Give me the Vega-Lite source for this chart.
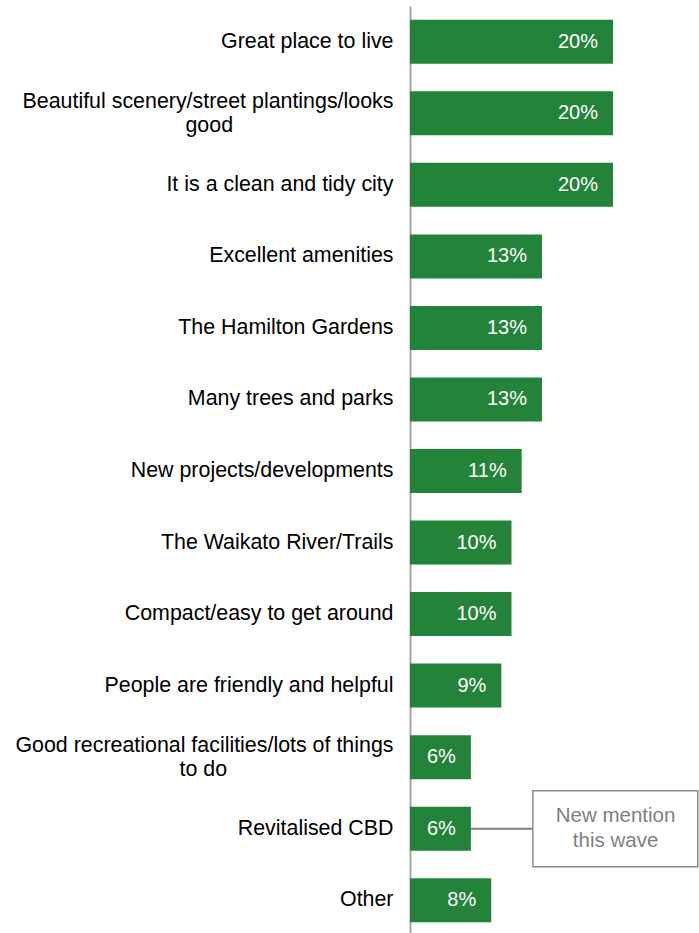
{
  "$schema": "https://vega.github.io/schema/vega-lite/v6.json",
  "width": 289,
  "height": 930,
  "autosize": {"type": "none"},
  "padding": {"left": 410, "top": 6, "right": 0, "bottom": 0},
  "background": "white",
  "config": {"view": {"stroke": null}, "font": "Liberation Sans"},
  "data": {
    "values": [
      {"key": "a", "pct": 0.20},
      {"key": "b", "pct": 0.20},
      {"key": "c", "pct": 0.20},
      {"key": "d", "pct": 0.13},
      {"key": "e", "pct": 0.13},
      {"key": "f", "pct": 0.13},
      {"key": "g", "pct": 0.11},
      {"key": "h", "pct": 0.10},
      {"key": "i", "pct": 0.10},
      {"key": "j", "pct": 0.09},
      {"key": "k", "pct": 0.06},
      {"key": "l", "pct": 0.06},
      {"key": "m", "pct": 0.08}
    ]
  },
  "encoding": {
    "y": {
      "field": "key",
      "type": "nominal",
      "sort": null,
      "scale": {"paddingInner": 0.385, "paddingOuter": 0.1925},
      "axis": {
        "title": null,
        "ticks": false,
        "domain": true,
        "domainColor": "#A6A6A6",
        "domainWidth": 2,
        "labelFont": "Liberation Sans",
        "labelFontSize": 21.4,
        "labelColor": "#000000",
        "labelPadding": 17,
        "labelLimit": 0,
        "labelLineHeight": 24,
        "labelOffset": {"condition": {"test": "datum.value === 'b' || datum.value === 'k'", "value": -11}, "value": 0},
        "labelExpr": "{'a':['Great place to live'],'b':['Beautiful scenery/street plantings/looks','good\u00a0\u00a0\u00a0\u00a0\u00a0\u00a0\u00a0\u00a0\u00a0\u00a0\u00a0\u00a0\u00a0\u00a0\u00a0\u00a0\u00a0\u00a0\u00a0\u00a0\u00a0\u00a0\u00a0\u00a0\u00a0\u00a0\u00a0\u200b'],'c':['It is a clean and tidy city'],'d':['Excellent amenities'],'e':['The Hamilton Gardens'],'f':['Many trees and parks'],'g':['New projects/developments'],'h':['The Waikato River/Trails'],'i':['Compact/easy to get around'],'j':['People are friendly and helpful'],'k':['Good recreational facilities/lots of things','to do\u00a0\u00a0\u00a0\u00a0\u00a0\u00a0\u00a0\u00a0\u00a0\u00a0\u00a0\u00a0\u00a0\u00a0\u00a0\u00a0\u00a0\u00a0\u00a0\u00a0\u00a0\u00a0\u00a0\u00a0\u00a0\u00a0\u00a0\u00a0\u200b'],'l':['Revitalised CBD'],'m':['Other']}[datum.value]"
      }
    }
  },
  "layer": [
    {
      "mark": {"type": "bar", "color": "#238439"},
      "encoding": {
        "x": {"field": "pct", "type": "quantitative", "scale": {"domain": [0, 0.2847], "nice": false, "zero": true}, "axis": null}
      }
    },
    {
      "mark": {"type": "text", "color": "white", "fontSize": 20, "align": "right", "baseline": "middle", "dx": -15, "font": "Liberation Sans"},
      "encoding": {
        "x": {"field": "pct", "type": "quantitative"},
        "text": {"field": "pct", "type": "quantitative", "format": ".0%"}
      }
    },
    {
      "data": {"values": [{"note": "New mention this wave"}]},
      "mark": {"type": "rule", "color": "#7F7F7F", "strokeWidth": 2},
      "encoding": {
        "x": {"datum": 0.06},
        "x2": {"datum": 0.121},
        "y": {"datum": "l"}
      }
    },
    {
      "data": {"values": [{"note": "New mention this wave"}]},
      "mark": {"type": "bar", "fill": "white", "stroke": "#8C8C8C", "strokeWidth": 1.5, "height": 76},
      "encoding": {
        "x": {"datum": 0.121},
        "x2": {"datum": 0.2835},
        "y": {"datum": "l"}
      }
    },
    {
      "data": {"values": [{"note": "New mention this wave"}]},
      "mark": {"type": "text", "color": "#7F7F7F", "fontSize": 20.5, "align": "center", "baseline": "middle", "lineHeight": 25, "dy": -13, "font": "Liberation Sans", "text": ["New mention", "this wave"]},
      "encoding": {
        "x": {"datum": 0.2025},
        "y": {"datum": "l"}
      }
    }
  ]
}
